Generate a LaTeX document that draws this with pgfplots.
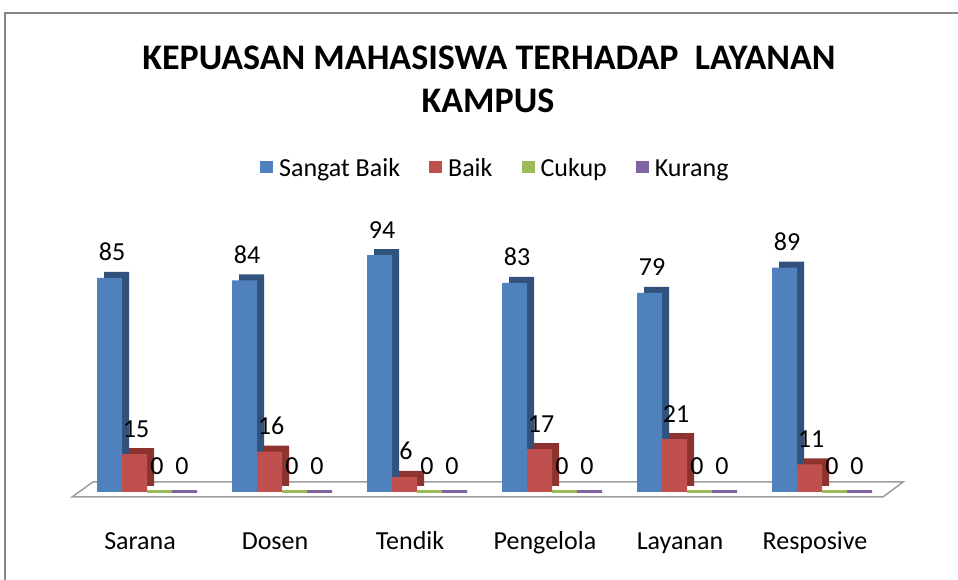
\documentclass[border=0pt]{standalone}
\usepackage{pgfplots}
\usepackage{pgfplotstable}
\pgfplotsset{compat=1.18}
\usepackage{fontspec}
\setmainfont{Carlito}
\definecolor{cBlue}{HTML}{4F81BD}
\definecolor{cBlueD}{HTML}{30527C}
\definecolor{cRed}{HTML}{C0504D}
\definecolor{cRedD}{HTML}{8C3330}
\definecolor{cGreen}{HTML}{9BBB59}
\definecolor{cPurple}{HTML}{8064A2}
\definecolor{frameGray}{HTML}{868686}

\pgfplotstableread{
x sb b c k
0 85 15 0 0
1 84 16 0 0
2 94 6 0 0
3 83 17 0 0
4 79 21 0 0
5 89 11 0 0
}\data

\begin{document}
\begin{tikzpicture}[x=1pt,y=1pt]
\useasboundingbox (0,0) rectangle (958,580);
\draw[frameGray, line width=2pt] (5,-20) -- (5,567) -- (980,567);
\node[font=\fontsize{36}{40}\selectfont\bfseries, anchor=base] at (489,510.5) {KEPUASAN MAHASISWA TERHADAP\ \ LAYANAN};
\node[font=\fontsize{36}{40}\selectfont\bfseries, anchor=base] at (488,467) {KAMPUS};
\filldraw[fill=white, draw=gray!75, line width=1.5pt] (72,83) -- (883,83) -- (903,98) -- (93,98) -- cycle;
\begin{axis}[
  at={(72.5pt,88pt)}, anchor=south west,
  scale only axis, width=810pt, height=252pt,
  xmin=-0.5, xmax=5.5, ymin=0, ymax=100,
  xtick={0,...,5},
  xticklabels={Sarana,Dosen,Tendik,Pengelola,Layanan,Resposive},
  ytick=\empty, major tick length=0pt,
  axis line style={draw=none},
  xticklabel style={font=\fontsize{26}{26}\selectfont, anchor=base, yshift=-58pt},
  clip=false,
  /pgf/number format/assume math mode=true,
  every node near coord/.append style={font=\fontsize{26}{26}\selectfont, anchor=base, yshift=17pt, text=black, inner sep=0pt},
  legend columns=4,
  legend style={draw=none, fill=none, at={(0.522,1.283)}, anchor=center,
    font=\fontsize{26}{26}\selectfont,
    /tikz/every odd column/.append style={column sep=4pt},
    /tikz/every even column/.append style={column sep=27pt}},
  legend image code/.code={\draw[#1, draw=none] (0pt,-4pt) rectangle (13pt,8pt);},
]
% side/top faces
\addplot[ybar, bar width=25pt, bar shift=-23.5pt, yshift=6pt, fill=cBlueD, draw=none, forget plot] table[x=x,y=sb]{\data};
\addplot[ybar, bar width=25pt, bar shift=1.5pt, yshift=6pt, fill=cRedD, draw=none, forget plot] table[x=x,y=b]{\data};
% front faces
\addplot[ybar, bar width=25pt, bar shift=-30.5pt, fill=cBlue, draw=none, nodes near coords,
  every node near coord/.append style={xshift=-28pt}] table[x=x,y=sb]{\data};
\addlegendentry{Sangat Baik}
\addplot[ybar, bar width=25pt, bar shift=-5.5pt, fill=cRed, draw=none, nodes near coords,
  every node near coord/.append style={xshift=-4pt}] table[x=x,y=b]{\data};
\addlegendentry{Baik}
\addplot[ybar, bar width=25pt, bar shift=19.5pt, fill=cGreen, draw=cGreen, line width=3pt, nodes near coords,
  every node near coord/.append style={xshift=17pt}] table[x=x,y=c]{\data};
\addlegendentry{Cukup}
\addplot[ybar, bar width=25pt, bar shift=44.5pt, fill=cPurple, draw=cPurple, line width=3pt, nodes near coords,
  every node near coord/.append style={xshift=42pt}] table[x=x,y=k]{\data};
\addlegendentry{Kurang}
\end{axis}
\end{tikzpicture}
\end{document}
